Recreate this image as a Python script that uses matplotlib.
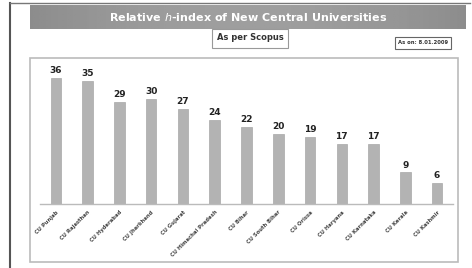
import matplotlib
matplotlib.use("Agg")
import matplotlib.pyplot as plt
from matplotlib.patches import Rectangle
import numpy as np

universities = ["CU Punjab", "CU Rajasthan", "CU Hyderabad", "CU Jharkhand", "CU Gujarat",
                "CU Himachal Pradesh", "CU Bihar", "CU South Bihar", "CU Orissa", "CU Haryana",
                "CU Karnataka", "CU Kerala", "CU Kashmir"]
h_index = [36, 35, 29, 30, 27, 24, 22, 20, 19, 17, 17, 9, 6]

W, H = 472, 268
fig = plt.figure(figsize=(W / 100, H / 100), dpi=100)
fig.patch.set_facecolor("white")

def px(x, y, w, h):
    return (x / W, 1 - (y + h) / H, w / W, h / H)

# outer frame lines
fig.add_artist(plt.Line2D([10 / W, 10 / W], [1 - 3 / H, 0], color="#555555", lw=1.5))
fig.add_artist(plt.Line2D([10 / W, 470 / W], [1 - 3 / H, 1 - 3 / H], color="#777777", lw=1.0))

# inner plot frame
r = Rectangle(px(30, 58, 428, 204)[:2], 428 / W, 204 / H, transform=fig.transFigure,
              fill=False, edgecolor="#bbbbbb", lw=1.2)
fig.add_artist(r)

# title bar with soft gradient
tax = fig.add_axes(px(30, 5, 436, 24))
t = np.linspace(-1, 1, 256)
grad = 0.55 + 0.07 * (1 - t ** 2)
tax.imshow(np.vstack([grad] * 4), aspect="auto", cmap="gray",
           vmin=0, vmax=1, extent=[0, 1, 0, 1])
tax.set_axis_off()
tax.text(0.5, 0.5, "Relative $\\mathit{h}$-index of New Central Universities", color="white",
         ha="center", va="center", fontsize=8, fontweight="bold", transform=tax.transAxes)

# "As per Scopus" box
fig.text(250 / W, 1 - 38 / H, "As per Scopus", ha="center", va="center", fontsize=6,
         fontweight="bold", color="#333333",
         bbox=dict(boxstyle="square,pad=0.6", fc="white", ec="#999999", lw=0.8))
fig.add_artist(plt.Line2D([223 / W, 277 / W], [1 - 42 / H, 1 - 42 / H], color="#333333", lw=0.6))

# date box
fig.text(423 / W, 1 - 43 / H, "As on: 8.01.2009", ha="center", va="center", fontsize=3.8,
         fontweight="bold", color="#333333",
         bbox=dict(boxstyle="square,pad=0.6", fc="white", ec="#666666", lw=0.8))

ax = fig.add_axes(px(40, 60, 413, 144))
x = np.arange(len(universities))
ax.bar(x, h_index, width=0.33, color="#b3b3b3", edgecolor="#a8a8a8", lw=0.5)
for xi, v in zip(x, h_index):
    ax.text(xi, v + 0.8, str(v), ha="center", va="bottom", fontsize=6.5,
            fontweight="bold", color="#222222")
ax.set_xlim(-0.5, len(universities) - 0.5)
ax.set_ylim(0, 41)
ax.set_yticks([])
ax.set_xticks(x)
ax.set_xticklabels(universities, rotation=45, ha="right", rotation_mode="anchor",
                   fontsize=3.8, color="#444444", fontweight="bold")
ax.tick_params(axis="x", length=0, pad=4)
for s in ["top", "right", "left"]:
    ax.spines[s].set_visible(False)
ax.spines["bottom"].set_color("#bbbbbb")
ax.spines["bottom"].set_linewidth(1.0)
ax.patch.set_alpha(0)

fig.savefig("out.png", dpi=100)
